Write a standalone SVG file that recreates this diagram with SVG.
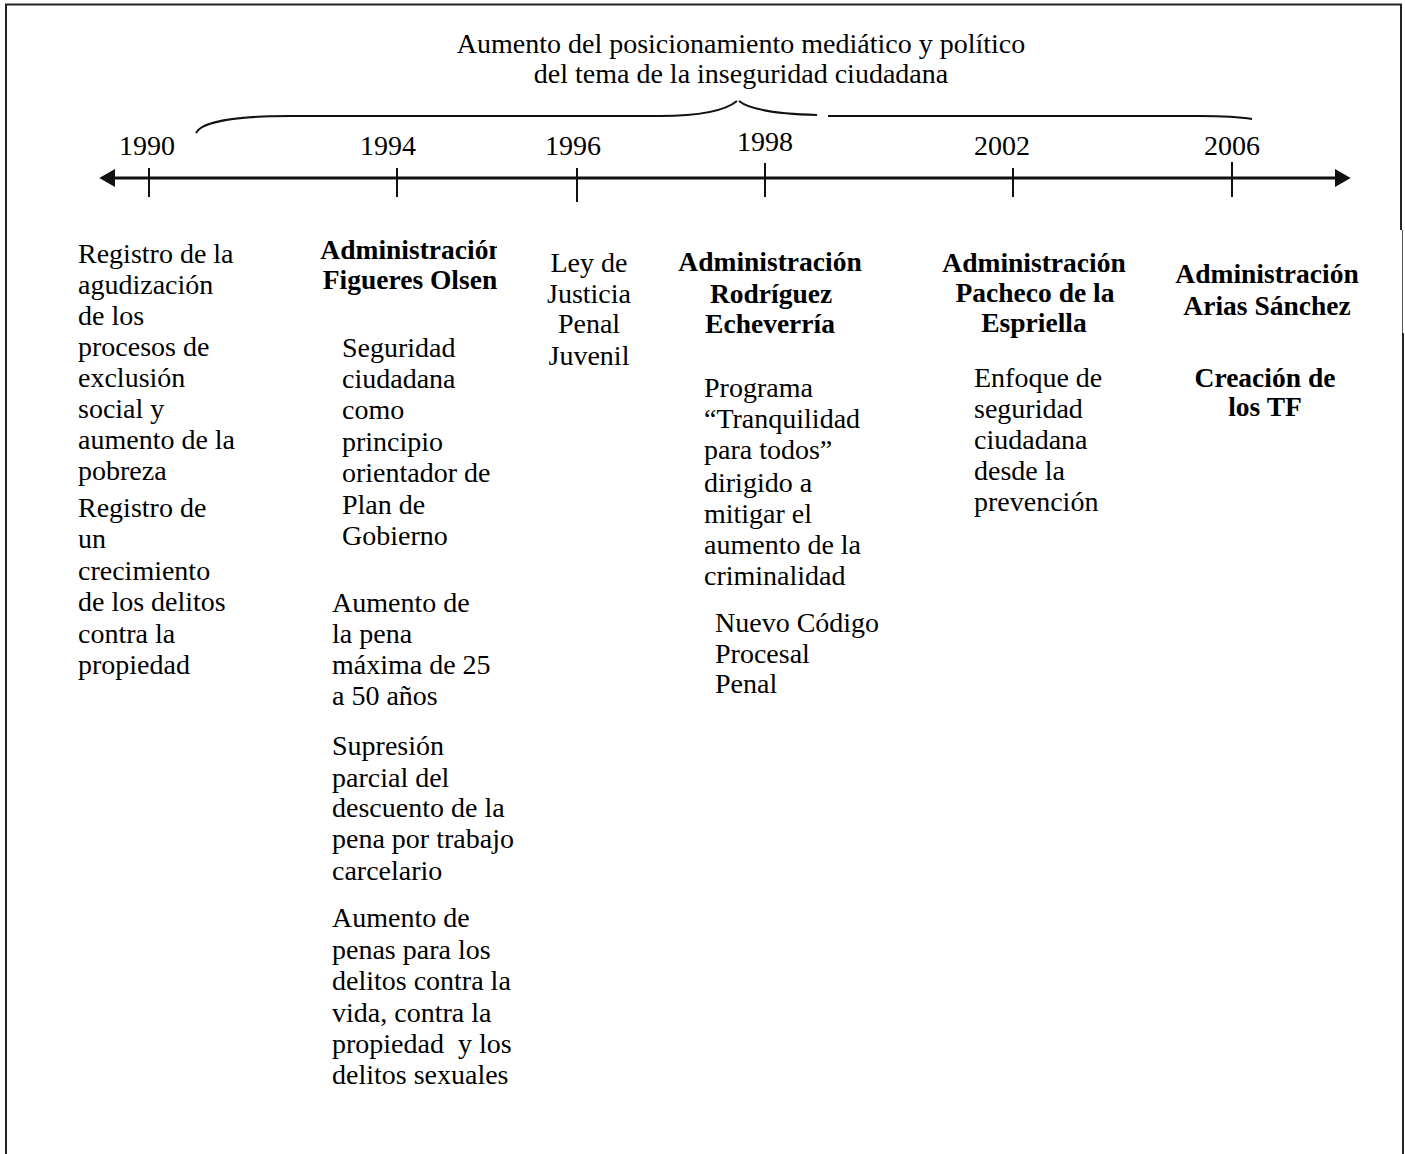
<svg xmlns="http://www.w3.org/2000/svg" width="1405" height="1154" viewBox="0 0 1405 1154">
  <style>
    text { font-family: "Liberation Serif", "Times New Roman", serif; font-size: 28px; fill: #000; }
    .b { font-weight: bold; font-size: 27.5px; }
    .c { text-anchor: middle; }
    .frame { fill: none; stroke: #222; stroke-width: 2; }
    .brace { fill: none; stroke: #111; stroke-width: 2; }
    .axis { stroke: #111; stroke-width: 3; fill: none; }
    .tick { stroke: #111; stroke-width: 2; }
  </style>
  <defs>
    <marker id="arrow" markerUnits="userSpaceOnUse" markerWidth="16" markerHeight="18" viewBox="0 0 15 17" refX="3" refY="8.5" orient="auto-start-reverse">
      <path d="M0,0 L15,8.5 L0,17 Z" fill="#111"/>
    </marker>
    <clipPath id="clip-figueres">
      <rect x="290" y="230" width="207" height="80"/>
    </clipPath>
  </defs>

  <rect width="1405" height="1154" fill="#fff"/>

  <!-- outer frame (open at the bottom) -->
  <g id="frame">
    <path class="frame" d="M6,1154 V4.5 H1401 V230"/>
    <path d="M1402.5,230 V333" stroke="#555" stroke-width="1" fill="none"/>
    <path class="frame" d="M1403,333 V1154"/>
  </g>

  <!-- brace and period caption -->
  <g id="header">
    <text class="c" x="741" y="53">Aumento del posicionamiento mediático y político</text>
    <text class="c" x="741" y="83">del tema de la inseguridad ciudadana</text>
    <path class="brace" d="M196,133 C202,121 240,116 290,116 L660,116 C700,116 726,110 737,101"/>
    <path class="brace" d="M739,101 C750,110 780,114 817,115"/>
    <path class="brace" d="M828,116 L1200,116 C1225,116 1240,117 1252,119"/>
  </g>

  <!-- axis and tick marks -->
  <g id="connectors">
    <line class="axis" x1="112" y1="178" x2="1338" y2="178" marker-start="url(#arrow)" marker-end="url(#arrow)"/>
    <line class="tick" x1="149" y1="168" x2="149" y2="197"/>
    <line class="tick" x1="397" y1="168" x2="397" y2="197"/>
    <line class="tick" x1="577" y1="168" x2="577" y2="202"/>
    <line class="tick" x1="765" y1="163" x2="765" y2="197"/>
    <line class="tick" x1="1013" y1="168" x2="1013" y2="197"/>
    <line class="tick" x1="1232" y1="162" x2="1232" y2="197"/>
  </g>

  <!-- year labels -->
  <g id="year-1990"><text class="c" x="147" y="155">1990</text></g>
  <g id="year-1994"><text class="c" x="388" y="155">1994</text></g>
  <g id="year-1996"><text class="c" x="573" y="155">1996</text></g>
  <g id="year-1998"><text class="c" x="765" y="151">1998</text></g>
  <g id="year-2002"><text class="c" x="1002" y="155">2002</text></g>
  <g id="year-2006"><text class="c" x="1232" y="155">2006</text></g>

  <!-- 1990 -->
  <g id="col-1990">
    <text x="78" y="263">Registro de la</text>
    <text x="78" y="294">agudización</text>
    <text x="78" y="325">de los</text>
    <text x="78" y="356">procesos de</text>
    <text x="78" y="387">exclusión</text>
    <text x="78" y="418">social y</text>
    <text x="78" y="449">aumento de la</text>
    <text x="78" y="480">pobreza</text>
    <text x="78" y="517">Registro de</text>
    <text x="78" y="548">un</text>
    <text x="78" y="580">crecimiento</text>
    <text x="78" y="611">de los delitos</text>
    <text x="78" y="643">contra la</text>
    <text x="78" y="674">propiedad</text>
  </g>

  <!-- 1994 -->
  <g id="col-1994">
    <g clip-path="url(#clip-figueres)">
      <text class="b c" x="412" y="259">Administración</text>
    </g>
    <text class="b c" x="410" y="289">Figueres Olsen</text>
    <text x="342" y="357">Seguridad</text>
    <text x="342" y="388">ciudadana</text>
    <text x="342" y="419">como</text>
    <text x="342" y="451">principio</text>
    <text x="342" y="482">orientador de</text>
    <text x="342" y="514">Plan de</text>
    <text x="342" y="545">Gobierno</text>
    <text x="332" y="612">Aumento de</text>
    <text x="332" y="643">la pena</text>
    <text x="332" y="674">máxima de 25</text>
    <text x="332" y="705">a 50 años</text>
    <text x="332" y="755">Supresión</text>
    <text x="332" y="787">parcial del</text>
    <text x="332" y="817">descuento de la</text>
    <text x="332" y="848">pena por trabajo</text>
    <text x="332" y="880">carcelario</text>
    <text x="332" y="927">Aumento de</text>
    <text x="332" y="959">penas para los</text>
    <text x="332" y="990">delitos contra la</text>
    <text x="332" y="1022">vida, contra la</text>
    <text x="332" y="1053" xml:space="preserve">propiedad  y los</text>
    <text x="332" y="1084">delitos sexuales</text>
  </g>

  <!-- 1996 -->
  <g id="col-1996">
    <text class="c" x="589" y="272">Ley de</text>
    <text class="c" x="589" y="303">Justicia</text>
    <text class="c" x="589" y="333">Penal</text>
    <text class="c" x="589" y="365">Juvenil</text>
  </g>

  <!-- 1998 -->
  <g id="col-1998">
    <text class="b c" x="770" y="271">Administración</text>
    <text class="b c" x="771" y="303">Rodríguez</text>
    <text class="b c" x="770" y="333">Echeverría</text>
    <text x="704" y="397">Programa</text>
    <text x="704" y="428">“Tranquilidad</text>
    <text x="704" y="459">para todos”</text>
    <text x="704" y="492">dirigido a</text>
    <text x="704" y="523">mitigar el</text>
    <text x="704" y="554">aumento de la</text>
    <text x="704" y="585">criminalidad</text>
    <text x="715" y="632">Nuevo Código</text>
    <text x="715" y="663">Procesal</text>
    <text x="715" y="693">Penal</text>
  </g>

  <!-- 2002 -->
  <g id="col-2002">
    <text class="b c" x="1034" y="272">Administración</text>
    <text class="b c" x="1035" y="302">Pacheco de la</text>
    <text class="b c" x="1034" y="332">Espriella</text>
    <text x="974" y="387">Enfoque de</text>
    <text x="974" y="418">seguridad</text>
    <text x="974" y="449">ciudadana</text>
    <text x="974" y="480">desde la</text>
    <text x="974" y="511">prevención</text>
  </g>

  <!-- 2006 -->
  <g id="col-2006">
    <text class="b c" x="1267" y="283">Administración</text>
    <text class="b c" x="1267" y="315">Arias Sánchez</text>
    <text class="b c" x="1265" y="387">Creación de</text>
    <text class="b c" x="1265" y="416">los TF</text>
  </g>
</svg>
